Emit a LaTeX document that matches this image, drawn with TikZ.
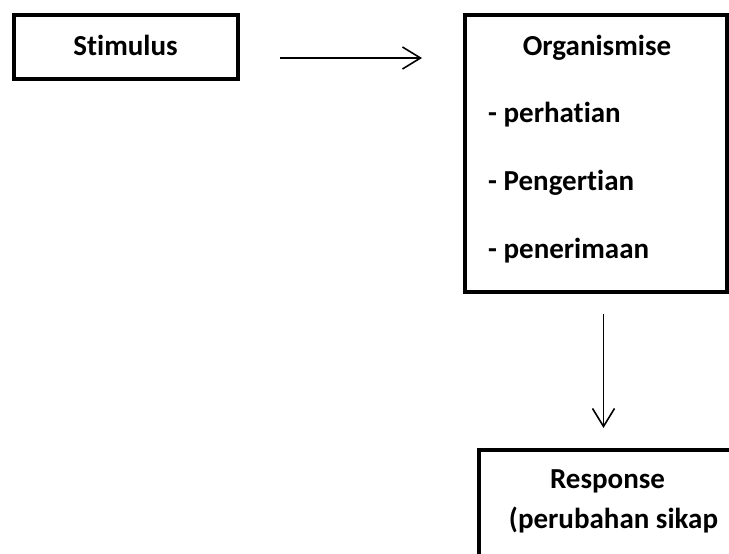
\documentclass[tikz,border=0pt]{standalone}
\usepackage{fontspec}
\setmainfont{Carlito}[Ligatures=NoCommon]
\usetikzlibrary{arrows.meta,positioning}

\begin{document}
\begin{tikzpicture}[x=1pt, y=-1pt,
    box/.style={draw, line width=4pt, inner sep=0pt},
    lbl/.style={font=\fontsize{29}{35}\selectfont\bfseries, inner sep=0pt},
    conn/.style={line width=1.6pt, -{Straight Barb[length=18pt, width=22pt]}}]
    \useasboundingbox (0,0) rectangle (729,554);
    \clip (0,0) rectangle (729,554);

    % Boxes
    \node[box, minimum width=223.5pt, minimum height=64pt] (stim) at (125.75,46.5) {};
    \node[box, minimum width=262pt, minimum height=277pt] (org) at (596,153) {};
    \node[box, anchor=north west, minimum width=300pt, minimum height=150pt] (resp) at (477,448) {};

    % Texts
    \node[lbl, anchor=base] (stimt) at (125.5,55) {Stimulus};
    \node[lbl, anchor=base] (orgt) at (597,55) {Organismise};
    \node[lbl, anchor=base west] (org1) at (488,122) {- perhatian};
    \node[lbl, anchor=base west] (org2) at (488,190) {- Pengertian};
    \node[lbl, anchor=base west] (org3) at (488,258) {- penerimaan};
    \node[lbl, anchor=base] (respt) at (607.5,488) {Response};
    \node[lbl, anchor=base] (resp1) at (613.5,528) {(perubahan sikap};

    % Arrows
    \draw[conn, shorten <=40.5pt, shorten >=41pt] ([yshift=-11.5pt]stim.east) -- ([yshift=-11.5pt]stim.east -| org.west);
    \draw[conn, shorten <=20.5pt, shorten >=20pt] ([xshift=7.5pt]org.south) -- ([xshift=7.5pt]org.south |- resp.north);
\end{tikzpicture}
\end{document}
